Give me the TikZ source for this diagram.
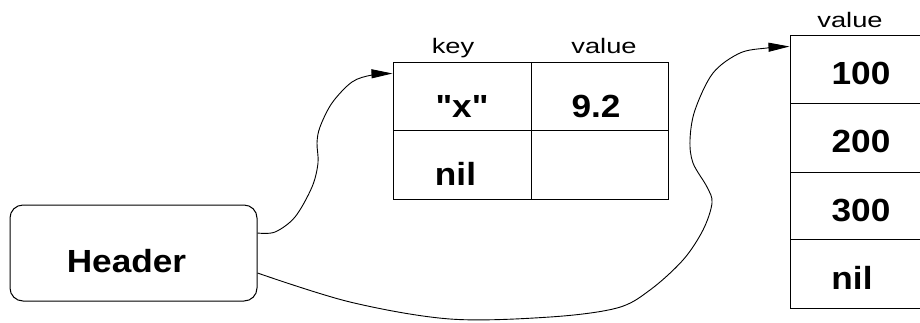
\documentclass[tikz,border=0pt]{standalone}
\usepackage{fontspec}
\setmainfont{Liberation Sans}
\newfontfamily\boldfnt{Liberation Sans}[FakeStretch=1.1]
\newfontfamily\lblfnt{Liberation Sans}[FakeStretch=1.3]
\usetikzlibrary{arrows.meta,calc}
\begin{document}
\begin{tikzpicture}[x=1pt,y=-1pt,line width=1pt,
  cellbox/.style={draw, rectangle, inner sep=0pt},
  btxt/.style={font=\boldfnt\bfseries\fontsize{32}{38}\selectfont, inner sep=0pt, anchor=base},
  ltxt/.style={font=\lblfnt\fontsize{21}{25}\selectfont, inner sep=0pt, anchor=base},
  arr/.style={-{Triangle[length=21pt,width=9pt]}, line width=0.9pt}]
\clip (0,0) rectangle (920,322);
\fill[white] (0,0) rectangle (920,322);
% header
\node[draw, rounded corners=13pt, minimum width=247pt, minimum height=96pt, inner sep=0pt] (hdr) at (133.5,253) {};
\node[btxt] (hdrt) at (126.5,272) {Header};
% table
\node[cellbox, minimum width=138pt, minimum height=68pt] (k1) at (462,96) {};
\node[cellbox, minimum width=137pt, minimum height=68pt] (v1) at (599.5,96) {};
\node[cellbox, minimum width=138pt, minimum height=69pt] (k2) at (462,164.5) {};
\node[cellbox, minimum width=137pt, minimum height=69pt] (v2) at (599.5,164.5) {};
\node[ltxt] (keyl) at (453,53) {key};
\node[ltxt] (vall) at (604,53) {value};
\node[btxt] (k1t) at (462,117) {"x"};
\node[btxt] (v1t) at (596,117) {9.2};
\node[btxt] (k2t) at (455.5,185) {nil};
% stack
\node[cellbox, minimum width=142pt, minimum height=68pt] (s1) at (861,69) {};
\node[cellbox, minimum width=142pt, minimum height=69pt] (s2) at (861,137.5) {};
\node[cellbox, minimum width=142pt, minimum height=67pt] (s3) at (861,205.5) {};
\node[cellbox, minimum width=142pt, minimum height=69pt] (s4) at (861,273.5) {};
\node[ltxt] (svl) at (850,27) {value};
\node[btxt] (s1t) at (861,84) {100};
\node[btxt] (s2t) at (861,152) {200};
\node[btxt] (s3t) at (861,221) {300};
\node[btxt] (s4t) at (852,289) {nil};
% connectors
\coordinate (a1s) at ($(hdr.east)+(0,-20)$);
\coordinate (a1e) at ($(k1.north west)+(0,12)$);
\coordinate (a2s) at ($(hdr.east)+(0,20)$);
\coordinate (a2e) at ($(s1.north west)+(0,12)$);
\draw[arr] plot[smooth, tension=0.55] coordinates {(a1s) (275,232) (295,217) (312,187) (318,163) (317,143) (320,127) (332,103) (352,82) (372,75) (a1e)};
\draw[arr] plot[smooth, tension=0.55] coordinates {(a2s) (350,302) (450,319) (550,317) (617,308) (650,290) (683,260) (703,230) (712,203) (707,187) (693,163) (690,140) (695,110) (713,73) (740,53) (767,48) (a2e)};
\end{tikzpicture}
\end{document}
